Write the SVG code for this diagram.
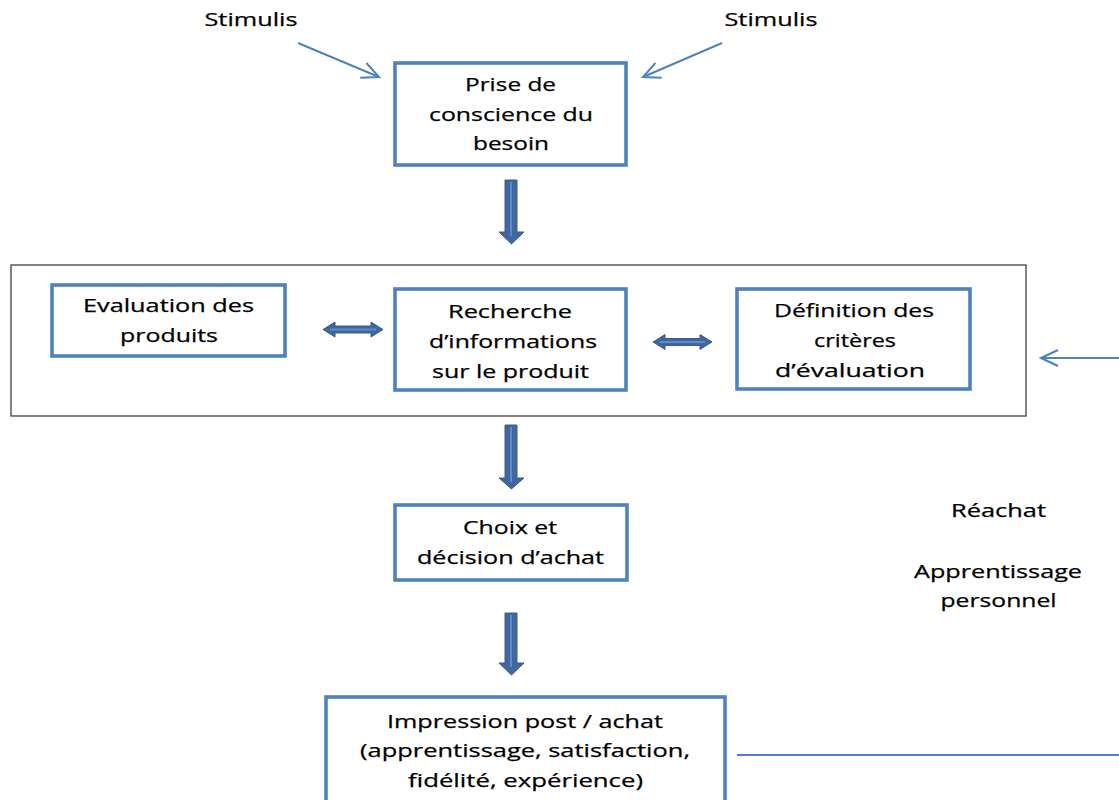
<svg xmlns="http://www.w3.org/2000/svg" width="1119" height="800" viewBox="0 0 1119 800">
<defs>
<style>
.box{fill:#fff;stroke:#4F81BD;stroke-width:3.6}
.frame{fill:none;stroke:#404040;stroke-width:1.3}
.t{font-family:"Open Sans","Noto Sans",sans-serif;font-size:19px;fill:#000;stroke:#000;stroke-width:0.25;text-anchor:middle}
.thin{fill:none;stroke:#4F81BD;stroke-width:2}
.blk{fill:#41679C;stroke:#385D8A;stroke-width:1}
.hl{stroke:#5B8BD0;stroke-width:2;fill:none}
</style>
<marker id="open" markerUnits="userSpaceOnUse" markerWidth="20" markerHeight="20" viewBox="-18 -10 20 20" refX="0" refY="0" orient="auto">
<path d="M-17,-8 L0,0 L-17,8" fill="none" stroke="#4F81BD" stroke-width="2"/>
</marker>
</defs>
<rect width="1119" height="800" fill="#fff"/>

<g id="frame-group">
<rect class="frame" x="11" y="265" width="1015" height="151"/>
</g>

<g id="connectors">
<line class="thin" x1="298" y1="43" x2="379" y2="77" marker-end="url(#open)"/>
<line class="thin" x1="722" y1="43" x2="643" y2="77" marker-end="url(#open)"/>
<line class="thin" x1="1119" y1="358" x2="1041" y2="358" marker-end="url(#open)"/>
<line class="thin" x1="737" y1="755" x2="1119" y2="755"/>
<g id="down1">
<polygon class="blk" points="505,180 517,180 517,232 524,232 511.5,244 499,232 505,232"/>
<line class="hl" x1="511" y1="182" x2="511" y2="236"/>
</g>
<g id="down2">
<polygon class="blk" points="505,425 517,425 517,478 524,478 511.5,489 499,478 505,478"/>
<line class="hl" x1="511" y1="427" x2="511" y2="482"/>
</g>
<g id="down3">
<polygon class="blk" points="505,613 517,613 517,663 524,663 511.5,675 499,663 505,663"/>
<line class="hl" x1="511" y1="615" x2="511" y2="667"/>
</g>
<g id="dbl1">
<polygon class="blk" points="323,329.5 335,322 335,326 371,326 371,322 383,329.5 371,337 371,333 335,333 335,337"/>
<line class="hl" x1="330" y1="329.5" x2="376" y2="329.5"/>
</g>
<g id="dbl2">
<polygon class="blk" points="653,342 665,334.5 665,338.5 700,338.5 700,334.5 712,342 700,349.5 700,345.5 665,345.5 665,349.5"/>
<line class="hl" x1="660" y1="342" x2="705" y2="342"/>
</g>
</g>

<g id="stimulis-left"><text class="t" x="251" y="26" textLength="93" lengthAdjust="spacingAndGlyphs">Stimulis</text></g>
<g id="stimulis-right"><text class="t" x="771" y="26" textLength="93" lengthAdjust="spacingAndGlyphs">Stimulis</text></g>

<g id="prise">
<rect class="box" x="395" y="63" width="231" height="102"/>
<text class="t" x="510.5" y="91" textLength="91" lengthAdjust="spacingAndGlyphs">Prise de</text>
<text class="t" x="511" y="121" textLength="164" lengthAdjust="spacingAndGlyphs">conscience du</text>
<text class="t" x="511" y="150" textLength="76" lengthAdjust="spacingAndGlyphs">besoin</text>
</g>

<g id="evaluation">
<rect class="box" x="52" y="285" width="233" height="71"/>
<text class="t" x="168.5" y="312" textLength="171" lengthAdjust="spacingAndGlyphs">Evaluation des</text>
<text class="t" x="169" y="342" textLength="98" lengthAdjust="spacingAndGlyphs">produits</text>
</g>

<g id="recherche">
<rect class="box" x="395" y="289" width="231" height="101"/>
<text class="t" x="510" y="318" textLength="124" lengthAdjust="spacingAndGlyphs">Recherche</text>
<text class="t" x="513" y="348" textLength="168" lengthAdjust="spacingAndGlyphs">d’informations</text>
<text class="t" x="510.5" y="378" textLength="157" lengthAdjust="spacingAndGlyphs">sur le produit</text>
</g>

<g id="definition">
<rect class="box" x="737" y="289" width="233" height="100"/>
<text class="t" x="854" y="317" textLength="160" lengthAdjust="spacingAndGlyphs">Définition des</text>
<text class="t" x="855" y="347" textLength="82" lengthAdjust="spacingAndGlyphs">critères</text>
<text class="t" x="850" y="377" textLength="150" lengthAdjust="spacingAndGlyphs">d’évaluation</text>
</g>

<g id="choix">
<rect class="box" x="395" y="505" width="232" height="75"/>
<text class="t" x="510" y="534" textLength="94" lengthAdjust="spacingAndGlyphs">Choix et</text>
<text class="t" x="510.5" y="564" textLength="187" lengthAdjust="spacingAndGlyphs">décision d’achat</text>
</g>

<g id="impression">
<rect class="box" x="326" y="697" width="399" height="110"/>
<text class="t" x="525" y="728" textLength="276" lengthAdjust="spacingAndGlyphs">Impression post / achat</text>
<text class="t" x="525" y="757" textLength="330" lengthAdjust="spacingAndGlyphs">(apprentissage, satisfaction,</text>
<text class="t" x="525.5" y="787" textLength="235" lengthAdjust="spacingAndGlyphs">fidélité, expérience)</text>
</g>

<g id="reachat"><text class="t" x="998.5" y="517" textLength="95" lengthAdjust="spacingAndGlyphs">Réachat</text></g>
<g id="apprentissage">
<text class="t" x="998" y="578" textLength="168" lengthAdjust="spacingAndGlyphs">Apprentissage</text>
<text class="t" x="998.5" y="607" textLength="116" lengthAdjust="spacingAndGlyphs">personnel</text>
</g>
</svg>
